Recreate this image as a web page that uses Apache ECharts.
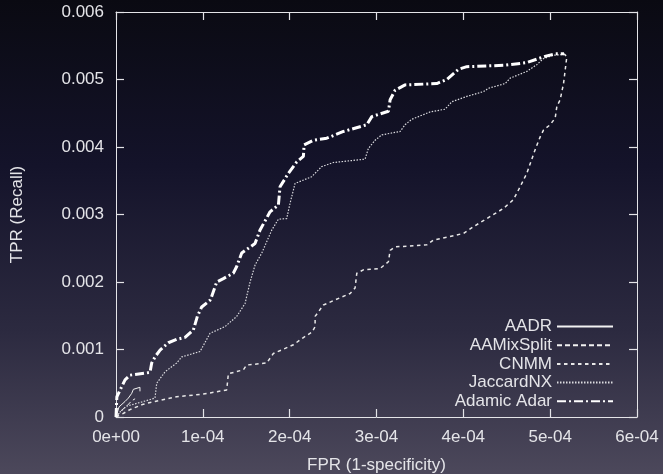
<!DOCTYPE html>
<html>
<head>
<meta charset="utf-8">
<script src="https://cdn.jsdelivr.net/npm/echarts@6/dist/echarts.min.js"></script>
<style>
  html, body { margin: 0; padding: 0; }
  #roc { width: 663px; height: 474px; }
</style>
</head>
<body>
<div id="roc"></div>
<script>
// tick labels as printed on the axes
var xTickLabels = ['0e+00', '1e-04', '2e-04', '3e-04', '4e-04', '5e-04', '6e-04'];
var yTickLabels = ['0', '0.001', '0.002', '0.003', '0.004', '0.005', '0.006'];

var seriesNames = ['AADR', 'AAMixSplit', 'CNMM', 'JaccardNX', 'Adamic Adar'];

// [FPR, TPR] points
var aadr = [
  [0, 0], [0.35e-5, 0.15e-3], [1.04e-5, 0.23e-3], [1.42e-5, 0.28e-3],
  [1.81e-5, 0.35e-3], [2.0e-5, 0.41e-3], [2.76e-5, 0.44e-3], [2.76e-5, 0.38e-3]
];

var aaMixSplit = [
  [0, 0], [0.4e-5, 0.06e-3], [0.9e-5, 0.13e-3], [1.3e-5, 0.17e-3],
  [1.8e-5, 0.24e-3], [2.2e-5, 0.27e-3]
];

var cnmm = [
  [0, 0], [0.8e-5, 0.05e-3], [1.61e-5, 0.11e-3], [3.15e-5, 0.19e-3],
  [4.49e-5, 0.23e-3], [6.99e-5, 0.30e-3], [1.006e-4, 0.34e-3], [1.275e-4, 0.40e-3],
  [1.294e-4, 0.64e-3], [1.467e-4, 0.70e-3], [1.505e-4, 0.77e-3], [1.736e-4, 0.80e-3],
  [1.812e-4, 0.94e-3], [2.043e-4, 1.07e-3], [2.15e-4, 1.17e-3], [2.26e-4, 1.26e-3],
  [2.293e-4, 1.34e-3], [2.293e-4, 1.49e-3], [2.389e-4, 1.66e-3], [2.696e-4, 1.83e-3],
  [2.753e-4, 1.91e-3], [2.773e-4, 2.13e-3], [2.849e-4, 2.18e-3], [3.041e-4, 2.20e-3],
  [3.137e-4, 2.30e-3], [3.157e-4, 2.47e-3], [3.214e-4, 2.52e-3], [3.579e-4, 2.55e-3],
  [3.656e-4, 2.62e-3], [4.002e-4, 2.72e-3], [4.117e-4, 2.82e-3], [4.271e-4, 2.94e-3],
  [4.462e-4, 3.09e-3], [4.577e-4, 3.22e-3], [4.654e-4, 3.41e-3], [4.731e-4, 3.61e-3],
  [4.827e-4, 3.96e-3], [4.885e-4, 4.15e-3], [4.923e-4, 4.25e-3], [5.0e-4, 4.33e-3],
  [5.058e-4, 4.43e-3], [5.077e-4, 4.60e-3], [5.115e-4, 4.70e-3], [5.154e-4, 4.94e-3],
  [5.192e-4, 5.34e-3], [5.16e-4, 5.38e-3]
];

var jaccardNX = [
  [0, 0], [0.5e-5, 0.08e-3], [1.22e-5, 0.16e-3], [3.17e-5, 0.23e-3],
  [4.49e-5, 0.28e-3], [4.69e-5, 0.50e-3], [5.65e-5, 0.67e-3], [6.99e-5, 0.80e-3],
  [7.57e-5, 0.89e-3], [9.68e-5, 0.97e-3], [1.083e-4, 1.24e-3], [1.256e-4, 1.34e-3],
  [1.39e-4, 1.49e-3], [1.486e-4, 1.68e-3], [1.544e-4, 2.00e-3], [1.601e-4, 2.25e-3],
  [1.679e-4, 2.43e-3], [1.794e-4, 2.77e-3], [1.87e-4, 2.93e-3], [1.966e-4, 2.94e-3],
  [2.005e-4, 3.17e-3], [2.062e-4, 3.46e-3], [2.254e-4, 3.56e-3], [2.369e-4, 3.71e-3],
  [2.503e-4, 3.77e-3], [2.868e-4, 3.82e-3], [2.907e-4, 3.98e-3], [2.984e-4, 4.10e-3],
  [3.061e-4, 4.18e-3], [3.272e-4, 4.23e-3], [3.329e-4, 4.33e-3], [3.406e-4, 4.41e-3],
  [3.618e-4, 4.52e-3], [3.79e-4, 4.56e-3], [3.867e-4, 4.67e-3], [4.04e-4, 4.75e-3],
  [4.232e-4, 4.82e-3], [4.29e-4, 4.87e-3], [4.482e-4, 4.94e-3], [4.539e-4, 5.02e-3],
  [4.731e-4, 5.12e-3], [4.846e-4, 5.22e-3], [4.923e-4, 5.31e-3], [5.038e-4, 5.36e-3],
  [5.16e-4, 5.37e-3]
];

var adamicAdar = [
  [0, 0], [0.1e-5, 0.30e-3], [0.66e-5, 0.45e-3], [1.04e-5, 0.55e-3],
  [1.61e-5, 0.62e-3], [3.92e-5, 0.66e-3], [4.11e-5, 0.80e-3], [4.49e-5, 0.89e-3],
  [5.07e-5, 0.99e-3], [6.03e-5, 1.10e-3], [6.99e-5, 1.15e-3], [7.95e-5, 1.18e-3],
  [8.91e-5, 1.29e-3], [9.37e-5, 1.49e-3], [9.87e-5, 1.63e-3], [1.083e-4, 1.73e-3],
  [1.10e-4, 1.78e-3], [1.16e-4, 2.00e-3], [1.236e-4, 2.05e-3], [1.351e-4, 2.13e-3],
  [1.39e-4, 2.23e-3], [1.448e-4, 2.43e-3], [1.601e-4, 2.57e-3], [1.659e-4, 2.77e-3],
  [1.774e-4, 3.04e-3], [1.87e-4, 3.14e-3], [1.889e-4, 3.41e-3], [1.985e-4, 3.61e-3],
  [2.082e-4, 3.78e-3], [2.158e-4, 3.86e-3], [2.166e-4, 4.03e-3], [2.273e-4, 4.10e-3],
  [2.427e-4, 4.13e-3], [2.619e-4, 4.23e-3], [2.888e-4, 4.33e-3], [2.946e-4, 4.45e-3],
  [3.137e-4, 4.53e-3], [3.157e-4, 4.70e-3], [3.214e-4, 4.84e-3], [3.329e-4, 4.92e-3],
  [3.694e-4, 4.94e-3], [3.809e-4, 5.00e-3], [3.944e-4, 5.15e-3], [4.04e-4, 5.19e-3],
  [4.462e-4, 5.21e-3], [4.731e-4, 5.25e-3], [4.865e-4, 5.31e-3], [4.962e-4, 5.35e-3],
  [5.058e-4, 5.38e-3], [5.16e-4, 5.38e-3]
];

var font = 'Liberation Sans, Arial, sans-serif';
var fg = '#e4e4e8';

function lineSeries(name, data, lineStyle) {
  return {
    name: name,
    type: 'line',
    data: data,
    showSymbol: false,
    symbol: 'none',
    color: lineStyle.color,
    animation: false,
    lineStyle: lineStyle
  };
}

// gnuplot style border: every side gets a line and inward ticks
function axisBox(extra) {
  var a = {
    type: 'value',
    axisLine: { show: true, onZero: false, lineStyle: { color: fg, width: 1 } },
    axisTick: { show: true, inside: true, length: 8, lineStyle: { color: fg, width: 1.2 } },
    splitLine: { show: false }
  };
  for (var k in extra) a[k] = extra[k];
  return a;
}

var chart = echarts.init(document.getElementById('roc'));

chart.setOption({
  animation: false,
  backgroundColor: {
    type: 'linear', x: 0, y: 0, x2: 0, y2: 1,
    colorStops: [
      { offset: 0, color: '#0a0a12' },
      { offset: 0.35, color: '#14132a' },
      { offset: 0.7, color: '#2c2a40' },
      { offset: 1, color: '#4c485b' }
    ]
  },
  grid: { left: 116, right: 26, top: 12, bottom: 57, containLabel: false, outerBoundsMode: 'none' },
  legend: {
    data: seriesNames,
    orient: 'vertical',
    align: 'right',
    right: 44,
    top: 313,
    itemWidth: 56,
    itemHeight: 14,
    itemGap: 1.7,
    itemStyle: { opacity: 0 },
    textStyle: { color: fg, fontSize: 17, fontFamily: font },
    selectedMode: false
  },
  xAxis: [
    axisBox({
      min: 0, max: 6e-4, interval: 1e-4,
      name: 'FPR (1-specificity)', nameLocation: 'middle', nameGap: 40,
      nameTextStyle: { color: fg, fontSize: 17, fontFamily: font },
      axisLabel: {
        color: fg, fontSize: 17, fontFamily: font, margin: 12,
        formatter: function (v) { return xTickLabels[Math.round(v / 1e-4)]; }
      }
    }),
    axisBox({ min: 0, max: 6e-4, interval: 1e-4, position: 'top', axisLabel: { show: false } })
  ],
  yAxis: [
    axisBox({
      min: 0, max: 0.006, interval: 0.001,
      name: 'TPR (Recall)', nameLocation: 'middle', nameGap: 90,
      nameTextStyle: { color: fg, fontSize: 17, fontFamily: font },
      axisLabel: {
        color: fg, fontSize: 17, fontFamily: font, margin: 12,
        formatter: function (v) { return yTickLabels[Math.round(v / 0.001)]; }
      }
    }),
    axisBox({ min: 0, max: 0.006, interval: 0.001, position: 'right', axisLabel: { show: false } })
  ],
  series: [
    lineSeries('AADR', aadr, { color: '#f2f2f2', width: 1, type: 'solid' }),
    lineSeries('AAMixSplit', aaMixSplit, { color: '#f2f2f2', width: 1, type: [5, 3] }),
    lineSeries('CNMM', cnmm, { color: '#e8e8e8', width: 1.5, type: [3.5, 3.5] }),
    lineSeries('JaccardNX', jaccardNX, { color: '#dcdce0', width: 1.2, type: [1.5, 1.5] }),
    lineSeries('Adamic Adar', adamicAdar, { color: '#ffffff', width: 3, type: [9, 3, 2, 3] })
  ]
});
</script>
</body>
</html>
